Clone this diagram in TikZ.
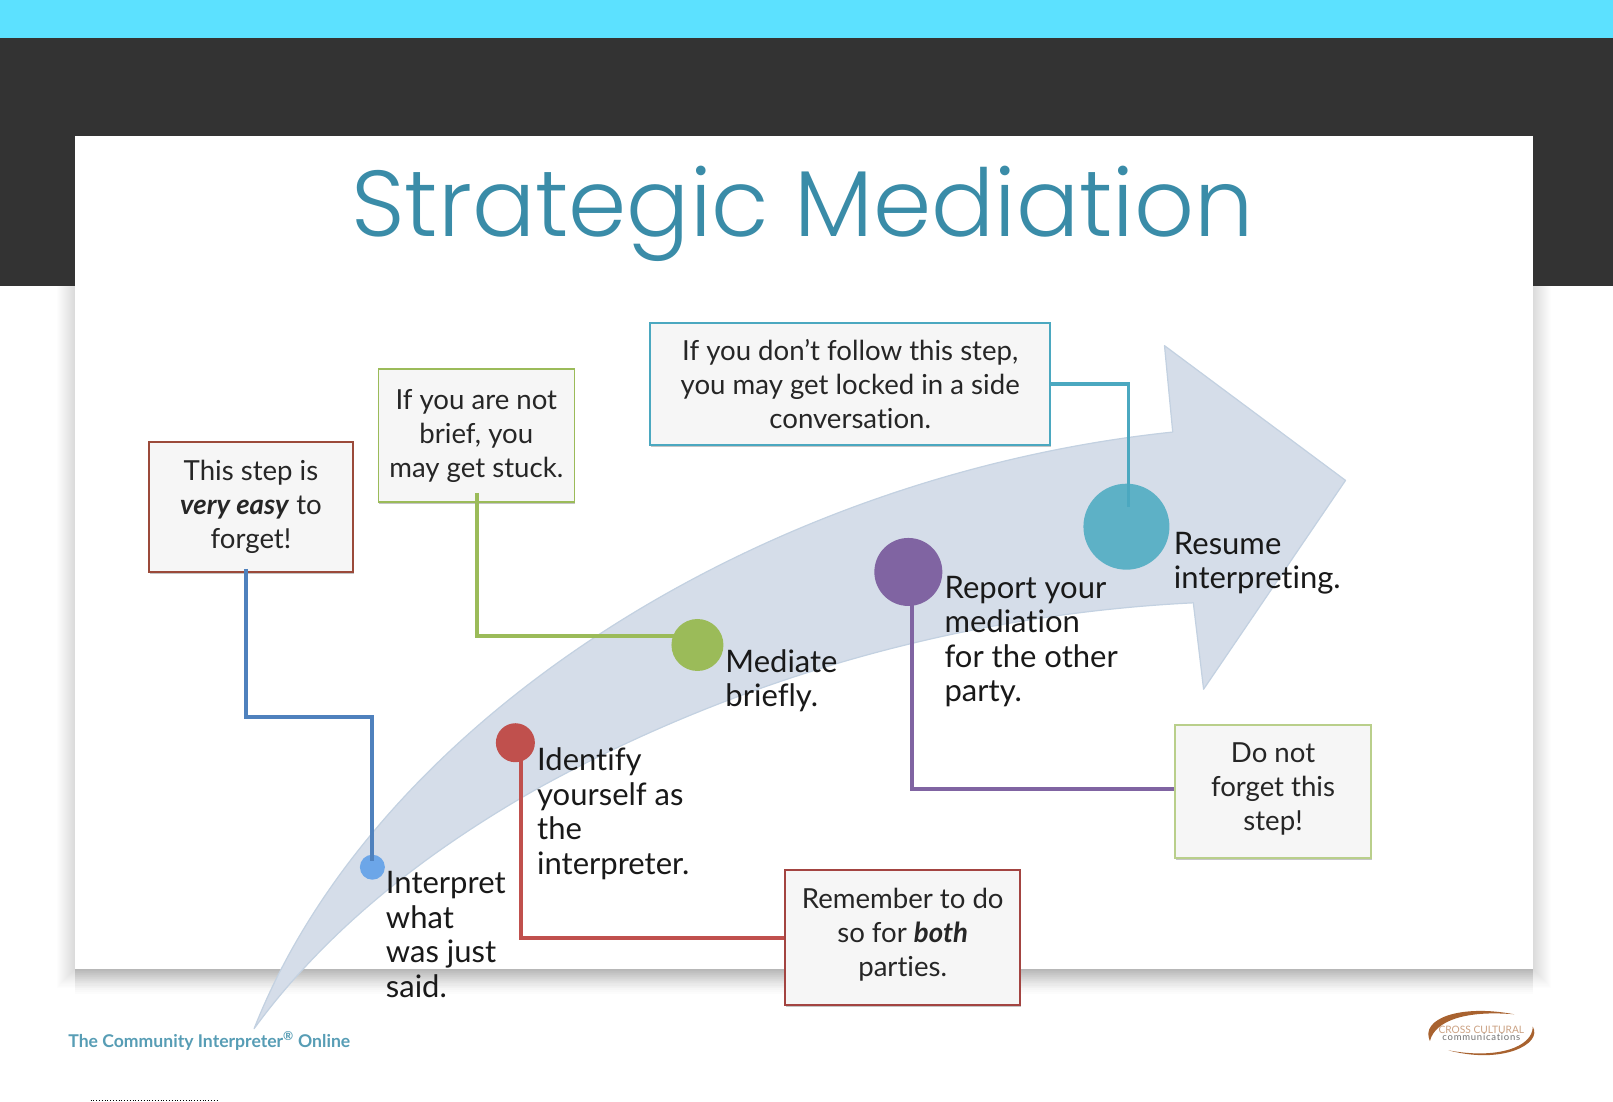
\documentclass[tikz,border=0pt]{standalone}
\usepackage{fontspec}
\usepackage{xcolor}
\setmainfont{Lato}[Ligatures=NoCommon]
\newfontfamily\titlefont{Poppins Light}
\usetikzlibrary{shadows}

\definecolor{bandcyan}{HTML}{5CE1FF}
\definecolor{banddark}{HTML}{333333}
\definecolor{titleteal}{HTML}{3A8CA8}
\definecolor{arrowfill}{HTML}{D5DDE9}
\definecolor{arrowline}{HTML}{C3D1E1}
\definecolor{boxfill}{HTML}{F6F6F6}
\definecolor{brownline}{HTML}{9B4A3A}
\definecolor{dotblue}{HTML}{6CA6E8}
\definecolor{linkblue}{HTML}{4F81BD}
\definecolor{linkred}{HTML}{C0504D}
\definecolor{linkgreen}{HTML}{9BBB59}
\definecolor{linkpurple}{HTML}{8064A2}
\definecolor{linkteal}{HTML}{4BA8C0}
\definecolor{logobrown}{HTML}{A8622F}

% extra depth on a last line moves the lines of a box up a little
\newcommand{\liftlines}{\rule[-10pt]{0pt}{10pt}}

\tikzset{
    notebox/.style={draw, line width=1.5pt, fill=boxfill, align=center, inner sep=0pt,
        font=\fontsize{27.6}{34}\selectfont, text=black!85,
        drop shadow={shadow xshift=1pt, shadow yshift=-2pt, opacity=0.45}},
    stepdot/.style={circle, inner sep=0pt},
    steptext/.style={anchor=north west, align=left, inner sep=0pt,
        font=\fontsize{31}{34.5}\selectfont, text=black!90},
    link/.style={line width=3.8pt}
}

\begin{document}
\begin{tikzpicture}[x=1.0287pt, y=-1.0287pt]
\useasboundingbox (0,0) rectangle (1568,1071);
\fill[white] (0,0) rectangle (1568,1071);

% Slide shadow, built up from many faint layers
\foreach \d in {1,...,18}
    \fill[black, opacity=0.006] (73-\d,278) rectangle (1490+\d,942+\d);
\foreach \d in {2,4,...,24}
    \fill[black, opacity=0.012] (73,278) rectangle (1490,942+\d);

% Bands across the top
\fill[bandcyan] (0,0) rectangle (1568,37);
\fill[banddark] (0,37) rectangle (1568,278);

% Slide
\fill[white] (73,132) rectangle (1490,942);

% Title
\node[text=titleteal, font=\titlefont\fontsize{93.6}{100}\selectfont] (title) at (780,208) {Strategic Mediation};

% Curved arrow
\draw[arrowline, fill=arrowfill, line width=1.2pt, line join=round]
    (247,1000) .. controls (365,700) and (740,462) .. (1140,420)
    -- (1132,336) -- (1308,467) -- (1170,670) -- (1160,586)
    .. controls (880,600) and (660,690) .. (520,768)
    .. controls (420,825) and (320,900) .. (247,1000) -- cycle;

% Step dots
\node[stepdot, fill=dotblue, minimum size=25pt] (dotinterpret) at (362,843) {};
\node[stepdot, fill=linkred, minimum size=39pt] (dotidentify) at (501,722) {};
\node[stepdot, fill=linkgreen, minimum size=52pt] (dotmediate) at (678,627) {};
\node[stepdot, fill=linkpurple, minimum size=68pt] (dotreport) at (883,556) {};
\node[stepdot, fill=linkteal!90!white, minimum size=86pt] (dotresume) at (1095,512) {};

% Step labels
\node[steptext] (txtinterpret) at (375,847) {Interpret\\what\\was just\\said.};
\node[steptext] (txtidentify) at (522,727) {Identify\\yourself as\\the\\interpreter.};
\node[steptext] (txtmediate) at (705,631) {Mediate\\briefly.};
\node[steptext] (txtreport) at (918,560) {Report your\\mediation\\for the other\\party.};
\node[steptext] (txtresume) at (1141,517) {Resume\\interpreting.};

% Note boxes
\node[notebox, draw=brownline, minimum width=204pt, minimum height=130pt] (noteeasy) at (244,493)
    {This step is\\\textbf{\textit{very easy}} to\\forget!};
\node[notebox, draw=linkgreen, minimum width=196pt, minimum height=133pt] (notebrief) at (463,423.5)
    {If you are not\\brief, you\\may get stuck.};
\node[notebox, draw=linkteal, minimum width=400pt, minimum height=122pt] (noteside) at (826.5,373.5)
    {If you don't follow this step,\\you may get locked in a side\\conversation.};
\node[notebox, draw=linkgreen!70!white, minimum width=196pt, minimum height=133pt] (noteforget) at (1237.5,769.5)
    {Do not\\forget this\\step!\liftlines};
\node[notebox, draw=linkred!85!black, minimum width=235pt, minimum height=135pt] (noteboth) at (877.5,911.5)
    {Remember to do\\so for \textbf{\textit{both}}\\parties.\liftlines};

% Connectors
\coordinate (bendblue) at (362,697);
\draw[link, linkblue] ([xshift=-5pt, yshift=4pt]noteeasy.south) |- (bendblue) -- ([yshift=6pt]dotinterpret.center);
\draw[link, linkgreen] ([xshift=1pt, yshift=10pt]notebrief.south) |- ([xshift=-6pt, yshift=9pt]dotmediate.center);
\draw[link, linkteal] (noteside.east) -| ([xshift=2pt, yshift=20pt]dotresume.center);
\draw[link, linkpurple] ([xshift=4pt]dotreport.center) |- ([yshift=2.5pt]noteforget.west);
\draw[link, linkred] ([xshift=6pt]dotidentify.center) |- (noteboth.west);

% Footer
\node[text=titleteal!85!white, font=\bfseries\fontsize{17.6}{18}\selectfont] (footer) at (203.5,1012) {The Community Interpreter\textsuperscript{\textregistered} Online};

% Logo, two tapered swooshes round the name
\fill[logobrown] (1390,1012) .. controls (1380,990) and (1420,976) .. (1472,986)
    .. controls (1425,982) and (1395,992) .. (1390,1012) -- cycle;
\fill[logobrown] (1490,998) .. controls (1500,1015) and (1460,1035) .. (1408,1021)
    .. controls (1455,1030) and (1490,1018) .. (1490,998) -- cycle;
\node[text=logobrown!60!white, font=\fontsize{10.2}{9}\selectfont] (logotop) at (1440,1001) {CROSS CULTURAL};
\node[text=black!55, font=\fontsize{9.5}{9}\selectfont\addfontfeature{LetterSpace=8}] (logolow) at (1440,1008.5) {communications};

% Dotted rule along the bottom edge
\draw[black, line width=0.8pt, dotted] (88,1070) -- (212,1070);
\end{tikzpicture}
\end{document}
